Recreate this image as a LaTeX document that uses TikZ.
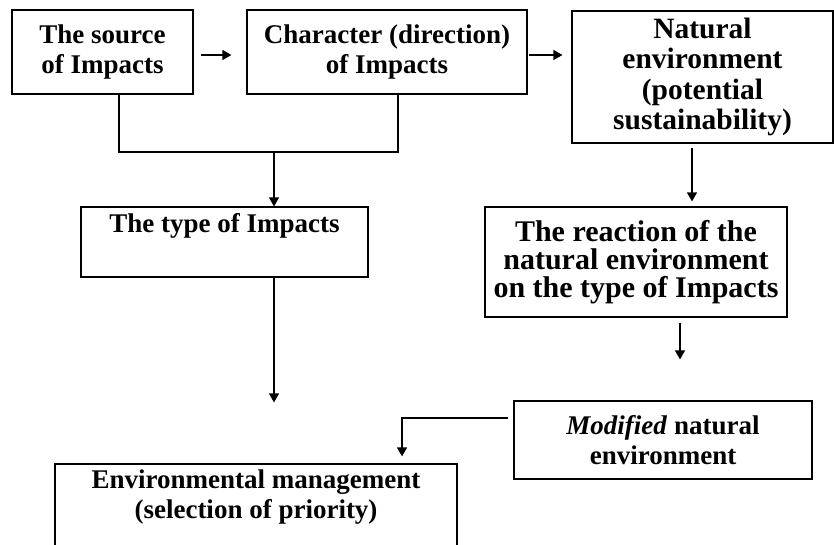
\documentclass[tikz,border=0pt]{standalone}
\usepackage{fontspec}
\setmainfont{Liberation Serif}
\usepackage{tikz}
\usetikzlibrary{
  arrows.meta,  % arrow tips
  positioning   % relative placement
}

\begin{document}
\begin{tikzpicture}[x=1pt, y=-1pt,
  blk/.style={draw, line width=1.2pt, inner sep=0pt, align=center,
    font=\fontsize{27}{30}\selectfont\bfseries},
  arr/.style={line width=1.2pt, -{Triangle[length=9pt,width=10pt]}}]
  % page frame
  \useasboundingbox (0,0) rectangle (834,544);

  % boxes of the scheme
  \node[blk, minimum width=181pt, minimum height=84pt] (src) at (102.5,52)
    {The source\\of Impacts};
  \node[blk, minimum width=280pt, minimum height=84pt] (chr) at (387,52)
    {Character (direction)\\of Impacts};
  \node[blk, minimum width=261pt, minimum height=132pt,
    font=\fontsize{29.5}{30.5}\selectfont\bfseries] (nat) at (702.5,77)
    {Natural\\environment\\(potential\\sustainability)};
  \node[blk, minimum width=287pt, minimum height=70pt] (typ) at (224.5,242)
    {The type of Impacts\\\strut};
  \node[blk, minimum width=302pt, minimum height=110pt,
    font=\fontsize{30}{28}\selectfont\bfseries] (rea) at (636,262)
    {The reaction of the\\natural environment\\on the type of Impacts};
  \node[blk, minimum width=298pt, minimum height=78pt] (mod) at (663,440)
    {\textit{Modified} natural\\environment};
  \node[blk, minimum width=402pt, minimum height=100pt] (env) at (256,514)
    {Environmental management\\(selection of priority)\\\strut};

  % arrows along the top row
  \draw[arr, shorten <=7pt, shorten >=15pt]
    ([yshift=-3pt]src.east) -- ([yshift=-3pt]src.east -| chr.west);
  \draw[arr, shorten <=1pt, shorten >=9pt]
    ([yshift=-3pt]chr.east) -- ([yshift=-3pt]chr.east -| nat.west);

  % joining line under the first two boxes
  \coordinate (join) at (274,152);
  \draw[line width=1.2pt] ([xshift=16.5pt]src.south) |- (join)
    -| ([xshift=11pt]chr.south);
  \draw[arr] (join) -- (join |- typ.north);

  % right column
  \draw[arr, shorten <=4pt, shorten >=5pt]
    ([xshift=-10.5pt]nat.south) -- ([xshift=-10.5pt]nat.south |- rea.north);
  \draw[arr, shorten <=5pt, shorten >=41pt]
    ([xshift=44pt]rea.south) -- ([xshift=44pt]rea.south |- mod.north);

  % into the management box
  \draw[arr, shorten <=5pt, shorten >=7pt]
    ([yshift=22pt]mod.west) -| ([xshift=146pt]env.north);
  \draw[arr, shorten >=61pt]
    ([xshift=49.5pt]typ.south) -- ([xshift=49.5pt]typ.south |- env.north);
\end{tikzpicture}
\end{document}
